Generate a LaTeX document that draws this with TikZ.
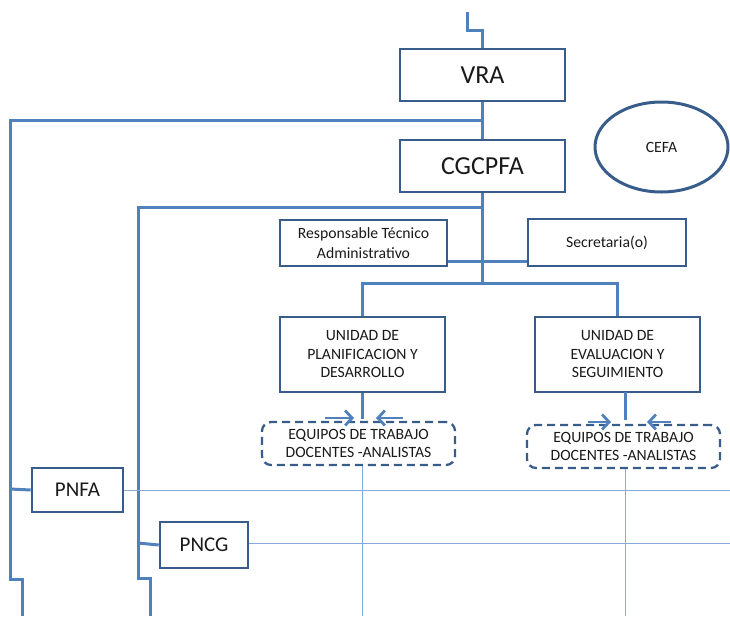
\documentclass[tikz,border=0pt]{standalone}
\usepackage{fontspec}
\setmainfont{Carlito}
\usetikzlibrary{shapes.geometric,arrows.meta,calc}
\definecolor{lineblue}{HTML}{4F81BD}
\definecolor{boxblue}{HTML}{385D8A}
\definecolor{thinblue}{HTML}{86AADB}
\definecolor{txt}{HTML}{1A1A1A}
\tikzset{
  orgbox/.style={draw=boxblue, line width=2.6pt, fill=white, inner sep=0pt, align=center, text=txt},
  bigtext/.style={font=\fontsize{26}{30}\selectfont},
  midtext/.style={font=\fontsize{21}{25}\selectfont},
  smalltext/.style={font=\fontsize{15.7}{18.5}\selectfont},
  teambox/.style={draw=boxblue, line width=2.3pt, dash pattern=on 8pt off 5pt, rounded corners=9pt, inner sep=0pt, align=center, text=txt, font=\fontsize{15.7}{18}\selectfont},
  link/.style={draw=lineblue, line width=3pt},
  thin/.style={draw=thinblue, line width=1pt},
  arr/.style={draw=lineblue, line width=2.8pt, -{Straight Barb[length=7pt,width=15pt]}},
}
\begin{document}
\begin{tikzpicture}[x=1pt,y=-1pt]
\useasboundingbox (0,0) rectangle (730,616);

% nodes
\node[orgbox,bigtext,minimum width=165,minimum height=52] (vra) at (482.5,75) {VRA};
\node[orgbox,bigtext,minimum width=165,minimum height=52] (cgc) at (482.5,166) {CGCPFA};
\node[ellipse,draw=boxblue,line width=3pt,minimum width=133,minimum height=90,inner sep=0pt,text=txt,smalltext] (cefa) at (661.5,147) {CEFA};
\node[orgbox,smalltext,minimum width=167,minimum height=46,font=\fontsize{15.7}{20}\selectfont] (resp) at (363.5,243) {Responsable Técnico\\Administrativo};
\node[orgbox,smalltext,minimum width=158,minimum height=47] (sec) at (607,242.5) {Secretaria(o)};
\node[orgbox,smalltext,minimum width=165,minimum height=75] (u1) at (362.5,354.5) {UNIDAD DE\\PLANIFICACION Y\\DESARROLLO};
\node[orgbox,smalltext,minimum width=165,minimum height=75] (u2) at (617.5,354.5) {UNIDAD DE\\EVALUACION Y\\SEGUIMIENTO};
\node[teambox,minimum width=193,minimum height=43] (eq1) at (358.5,443.5) {EQUIPOS DE TRABAJO\\DOCENTES -ANALISTAS};
\node[teambox,minimum width=193,minimum height=43] (eq2) at (623.5,446.5) {EQUIPOS DE TRABAJO\\DOCENTES -ANALISTAS};
\node[orgbox,midtext,minimum width=91,minimum height=44] (pnfa) at (77.5,490) {PNFA};
\node[orgbox,midtext,minimum width=88,minimum height=46] (pncg) at (204,545) {PNCG};

% coordinates
\coordinate (top) at (467,12);
\coordinate (j1) at (482.5,120);
\coordinate (j2) at (482.5,207);
\coordinate (bus) at (482.5,283);
\coordinate (l1a) at (10,120);
\coordinate (l1b) at (10,579);
\coordinate (l1c) at (22,579);
\coordinate (l1d) at (22,616);
\coordinate (l1p) at (10,489);
\coordinate (l2a) at (138,207);
\coordinate (l2b) at (138,578);
\coordinate (l2c) at (150,578);
\coordinate (l2d) at (150,616);
\coordinate (l2p) at (138,543);
\coordinate (u1e) at (362.5,419);
\coordinate (u2s) at (625,392);
\coordinate (u2e) at (625,420);
\coordinate (a1s) at (325,418); \coordinate (a1e) at (354,418);
\coordinate (a2s) at (403,418); \coordinate (a2e) at (376,418);
\coordinate (a3s) at (588,422); \coordinate (a3e) at (611,422);
\coordinate (a4s) at (671,422); \coordinate (a4e) at (647,422);
\coordinate (r1) at (730,490);
\coordinate (r2) at (730,543);
\coordinate (b1) at (362,616);
\coordinate (b2) at (625,616);

% connectors
\draw[link] (top) -- ++(0,18) -| (vra.north);
\draw[link] (vra.south) -- (cgc.north);
\draw[link] (j1) -- (l1a) -- (l1b) -- (l1c) -- (l1d);
\draw[link] (l1p) -- (pnfa.west);
\draw[link] (cgc.south) -- (bus);
\draw[link] (j2) -- (l2a) -- (l2b) -- (l2c) -- (l2d);
\draw[link] (l2p) -- (pncg.west);
\draw[link] ($(resp.south east)+(0,-6)$) -- ($(sec.south west)+(0,-6)$);
\draw[link] (u1.north) -- (u1.north |- bus) -| (u2.north);
\draw[link] (u1.south) -- (u1e);
\draw[link] (u2s) -- (u2e);
\draw[arr] (a1s) -- (a1e);
\draw[arr] (a2s) -- (a2e);
\draw[arr] (a3s) -- (a3e);
\draw[arr] (a4s) -- (a4e);
\draw[thin] (pnfa.east) -- (pnfa.east -| r1);
\draw[thin] (pncg.east |- r2) -- (r2);
\draw[thin] (b1 |- eq1.south) -- (b1);
\draw[thin] (b2 |- eq2.south) -- (b2);
\end{tikzpicture}
\end{document}
